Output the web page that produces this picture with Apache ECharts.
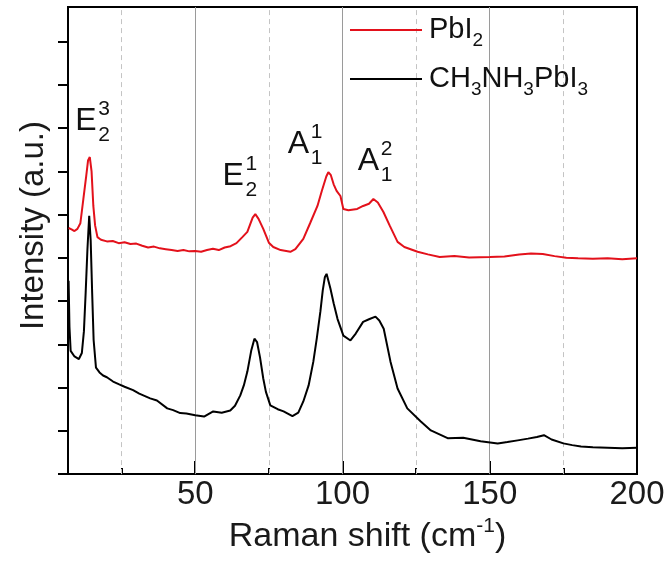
<!DOCTYPE html>
<html>
<head>
<meta charset="utf-8">
<script src="https://cdn.jsdelivr.net/npm/echarts@6/dist/echarts.min.js"></script>
<style>
html,body{margin:0;padding:0;background:#fff;}
#chart{width:670px;height:563px;}
</style>
</head>
<body>
<div id="chart"></div>
<script>
// ---- Data (Raman shift in cm-1, intensity in arbitrary offset units) ----
const pbi2Shift = [7,8,9,10,11,12,13,13.6,14.2,14.8,15.4,16,16.8,18,20,22,24,26,28,30,32,34,36,38,40,42,44,46,48,50,52,54,56,58,60,62,64,66,67.7,69.5,70.4,71.5,73.1,75,76.5,79,82.3,84,86.7,89,91.5,93,94.5,95.2,96,97,98,99.3,100.3,102,105,107,109,110.5,112,113.9,116,118.7,121,125.5,129,133,138,143,150,155,160,164,168,172,176,180,185,190,195,200];
const pbi2Intensity = [5.69,5.66,5.62,5.67,5.80,6.35,6.90,7.25,7.33,7.00,6.20,5.75,5.48,5.42,5.38,5.39,5.34,5.36,5.32,5.33,5.28,5.24,5.26,5.22,5.20,5.18,5.16,5.18,5.15,5.16,5.14,5.18,5.21,5.18,5.24,5.27,5.34,5.48,5.60,5.93,6.01,5.90,5.67,5.35,5.25,5.18,5.14,5.20,5.44,5.80,6.20,6.55,6.88,6.98,6.92,6.70,6.55,6.43,6.13,6.10,6.13,6.20,6.25,6.36,6.28,6.06,5.75,5.37,5.25,5.14,5.08,5.02,5.04,5.01,5.02,5.03,5.08,5.10,5.09,5.04,5.00,4.99,4.98,4.99,4.97,4.99];

const mapiShift = [7,7.3,7.7,9,10.5,11.5,12.2,12.8,13.4,14,14.5,15,15.5,16.3,17.5,18.7,20,22.1,24,26,28.9,31,34.7,37,40.5,42.5,44.9,47,50,53,56.1,59,61.9,63.5,65.3,66.5,67.7,69,70.1,71,72,73.1,74,75.5,78,80,83,85,86.7,88.5,90.1,91.3,92.5,93.3,94,94.6,95.9,97,98.3,100.3,102.7,104.5,107,109,111.2,112.5,114,116.3,118.7,122,126.5,130,135.7,141,146.9,152.7,156,159.5,163,166,168.4,171,175,178,181,185,190,195,200];
const mapiIntensity = [4.47,3.40,2.85,2.72,2.66,2.80,3.30,4.20,5.20,5.97,5.40,4.20,3.10,2.46,2.35,2.28,2.24,2.14,2.08,2.02,1.94,1.86,1.75,1.70,1.52,1.48,1.41,1.40,1.36,1.33,1.45,1.42,1.47,1.58,1.82,2.05,2.37,2.85,3.13,3.05,2.70,2.21,1.90,1.59,1.50,1.45,1.34,1.42,1.68,2.05,2.60,3.15,3.76,4.25,4.55,4.63,4.29,3.95,3.59,3.20,3.09,3.25,3.52,3.58,3.64,3.55,3.36,2.60,1.98,1.52,1.22,1.01,0.83,0.84,0.76,0.71,0.74,0.78,0.82,0.86,0.90,0.80,0.71,0.67,0.64,0.62,0.61,0.60,0.61];

const seriesNames = ['PbI2', 'CH3NH3PbI3'];
const legendLabels = ['PbI{s|2}', 'CH{s|3}NH{s|3}PbI{s|3}'];

const xTicks = [50, 100, 150, 200];
const xMinorTicks = [25, 75, 125, 175];
const yTicks = [0,1,2,3,4,5,6,7,8,9,10];
const solidGrid = [50, 100, 150];
const dashedGrid = [25, 75, 125, 175];

// peak annotations: main letter, superscript, subscript, anchor (shift, intensity)
const peakMain = ['E', 'E', 'A', 'A'];
const peakSup = ['3', '1', '1', '2'];
const peakSub = ['2', '2', '1', '1'];
const peakAnchorX = [9.3, 59.3, 81.4, 105.2];
const peakAnchorY = [8.16, 6.89, 7.63, 7.24];

const zip = (a, b) => a.map((v, i) => [v, b[i]]);
const FONT = '"Liberation Sans", Arial, sans-serif';

const chart = echarts.init(document.getElementById('chart'), null, {renderer: 'canvas'});

const gridMarks = solidGrid.map(v => ({xAxis: v, lineStyle: {color: '#9a9a9a', width: 1, type: 'solid'}}))
  .concat(dashedGrid.map(v => ({xAxis: v, lineStyle: {color: '#c4c4c4', width: 1, type: [5, 4]}})));

const option = {
  animation: false,
  backgroundColor: '#fff',
  grid: {left: 68, right: 33, top: 7, bottom: 87, show: true, borderColor: '#000', borderWidth: 2, backgroundColor: 'transparent'},
  legend: {
    orient: 'vertical', left: 350, top: 10, padding: 0, itemWidth: 72, itemHeight: 2, itemGap: 9,
    icon: 'rect',
    data: seriesNames,
    formatter: name => legendLabels[seriesNames.indexOf(name)],
    textStyle: {
      fontFamily: FONT, fontSize: 29, color: '#111', lineHeight: 40, padding: [0, 0, 0, 2],
      rich: {s: {fontFamily: FONT, fontSize: 19, color: '#111', lineHeight: 10, verticalAlign: 'bottom'}}
    }
  },
  xAxis: [{
    type: 'value', min: 6.8, max: 200,
    axisLine: {show: true, lineStyle: {color: '#000', width: 2}},
    axisTick: {show: true, inside: true, length: 13, lineStyle: {color: '#000', width: 2}, customValues: xTicks},
    axisLabel: {show: true, margin: 4, fontFamily: FONT, fontSize: 33, color: '#1a1a1a', customValues: xTicks},
    splitLine: {show: false},
    name: 'Raman shift (cm{sup|-1})',
    nameLocation: 'middle', nameGap: 39,
    nameTextStyle: {fontFamily: FONT, fontSize: 34, color: '#1a1a1a', lineHeight: 42, padding: [0, 0, 0, 30],
      rich: {sup: {fontFamily: FONT, fontSize: 21, color: '#1a1a1a', lineHeight: 28, verticalAlign: 'top'}}}
  }, {
    type: 'value', min: 6.8, max: 200, position: 'bottom',
    axisLine: {show: false},
    axisTick: {show: true, inside: true, length: 6, lineStyle: {color: '#000', width: 2}, customValues: xMinorTicks},
    axisLabel: {show: false},
    splitLine: {show: false}
  }],
  yAxis: {
    type: 'value', min: 0, max: 10.8,
    axisLine: {show: true, lineStyle: {color: '#000', width: 2}},
    axisTick: {show: true, inside: false, length: 10, lineStyle: {color: '#000', width: 2}, customValues: yTicks},
    axisLabel: {show: false},
    splitLine: {show: false},
    name: 'Intensity (a.u.)',
    nameLocation: 'middle', nameGap: 16,
    nameTextStyle: {fontFamily: FONT, fontSize: 33, color: '#1a1a1a', lineHeight: 36, padding: [0, 0, 0, 30]}
  },
  series: [{
    name: seriesNames[0], type: 'line', data: zip(pbi2Shift, pbi2Intensity),
    showSymbol: false, symbol: 'none', smooth: false,
    lineStyle: {color: '#e3111b', width: 2}, itemStyle: {color: '#e3111b'},
    z: 3,
    markLine: {silent: true, symbol: 'none', label: {show: false}, data: gridMarks, z: 1}
  }, {
    name: seriesNames[1], type: 'line', data: zip(mapiShift, mapiIntensity),
    showSymbol: false, symbol: 'none', smooth: false,
    lineStyle: {color: '#000', width: 2}, itemStyle: {color: '#000'},
    z: 3
  }]
};
chart.setOption(option);

// peak labels positioned from data coordinates
const graphics = [];
for (let i = 0; i < peakMain.length; i++) {
  const p = chart.convertToPixel({gridIndex: 0}, [peakAnchorX[i], peakAnchorY[i]]);
  graphics.push({type: 'text', x: p[0], y: p[1], style: {text: peakMain[i], font: '32px ' + FONT, fill: '#111', align: 'left', verticalAlign: 'middle'}});
  graphics.push({type: 'text', x: p[0] + 23, y: p[1] - 12, style: {text: peakSup[i], font: '21px ' + FONT, fill: '#111', align: 'left', verticalAlign: 'middle'}});
  graphics.push({type: 'text', x: p[0] + 23, y: p[1] + 14, style: {text: peakSub[i], font: '21px ' + FONT, fill: '#111', align: 'left', verticalAlign: 'middle'}});
}
chart.setOption({graphic: graphics});
</script>
</body>
</html>
